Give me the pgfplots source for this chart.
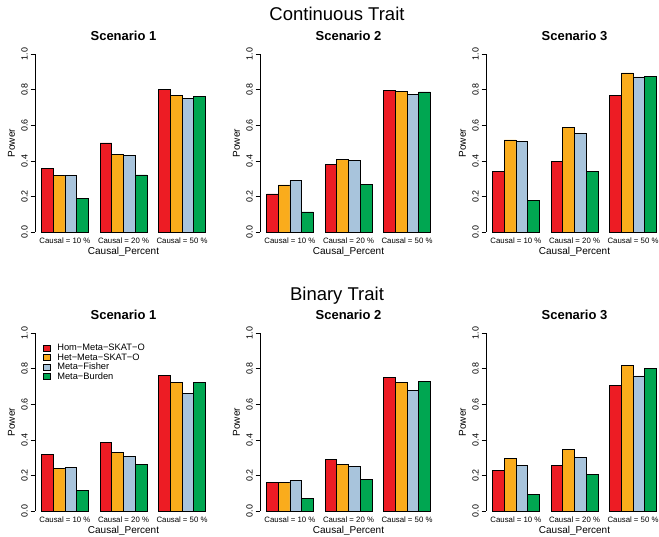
\documentclass[border=0pt]{standalone}
\usepackage{pgfplots}
\pgfplotsset{compat=1.18}
\usepackage{pgfplotstable}
\usepackage{fontspec}
\setmainfont{Liberation Sans}
\definecolor{cred}{RGB}{237,28,36}
\definecolor{corange}{RGB}{250,172,28}
\definecolor{cblue}{RGB}{168,196,220}
\definecolor{cgreen}{RGB}{0,166,81}

% Continuous trait
\pgfplotstableread{
g hom het fis bur
0 0.356 0.319 0.319 0.188
1 0.501 0.435 0.432 0.321
2 0.803 0.769 0.752 0.764
}\tabA
\pgfplotstableread{
g hom het fis bur
0 0.214 0.265 0.289 0.113
1 0.381 0.407 0.403 0.266
2 0.797 0.792 0.773 0.788
}\tabB
\pgfplotstableread{
g hom het fis bur
0 0.341 0.518 0.510 0.176
1 0.396 0.587 0.553 0.340
2 0.767 0.895 0.872 0.874
}\tabC
% Binary trait
\pgfplotstableread{
g hom het fis bur
0 0.320 0.240 0.245 0.118
1 0.388 0.328 0.309 0.264
2 0.764 0.723 0.659 0.723
}\tabD
\pgfplotstableread{
g hom het fis bur
0 0.163 0.159 0.170 0.069
1 0.292 0.260 0.253 0.176
2 0.751 0.723 0.678 0.728
}\tabE
\pgfplotstableread{
g hom het fis bur
0 0.227 0.294 0.257 0.092
1 0.257 0.345 0.303 0.208
2 0.704 0.818 0.760 0.801
}\tabF

\pgfplotsset{
  rb/.style={ybar, bar width=1, bar shift=0pt, draw=black, line width=0.7pt,
    legend image code/.code={\draw[##1,/tikz/.cd,bar width=3pt,bar shift=0pt] (0pt,-2.85pt) rectangle (7.3pt,2.85pt); \path (12pt,0pt);}},
  rpanel/.style={
    scale only axis, width=177pt, height=192pt, anchor=south west,
    xmin=0.44, xmax=15.56, ymin=-0.04, ymax=1.04,
    axis y line*=left, axis x line*=bottom,
    x axis line style={draw=none},
    y axis line style={line width=0.6pt, shorten <=7.11pt, shorten >=7.11pt},
    ytick={0,0.2,0.4,0.6,0.8,1},
    yticklabel style={/pgf/number format/.cd, fixed, fixed zerofill, precision=1, assume math mode=true, /tikz/.cd,
      rotate=90, anchor=base, yshift=3pt, font=\fontsize{8.9}{10.5}\selectfont},
    ytick style={line width=0.6pt, black},
    major tick length=4.3pt, tick align=outside,
    xtick={3,8,13},
    xticklabels={Causal = 10 \%, Causal = 20 \%, Causal = 50 \%},
    xtick style={draw=none},
    xticklabel style={font=\fontsize{7.8}{9.5}\selectfont, anchor=base},
    xlabel={Causal\_Percent},
    xlabel style={at={(axis description cs:0.5,0)}, anchor=base, yshift=-15.5pt, font=\fontsize{10}{12}\selectfont},
    ylabel={Power},
    ylabel style={at={(axis description cs:0,0.5)}, anchor=center, yshift=23.5pt, font=\fontsize{10}{12}\selectfont},
    title style={at={(axis description cs:0.5,1)}, anchor=base, yshift=0.5pt, font=\fontsize{13}{15}\selectfont\bfseries},
    clip=false,
    legend style={draw=none, fill=none, at={(axis description cs:0.025,0.92)}, anchor=north west,
      font=\fontsize{9.3}{11}\selectfont, row sep=0.5pt,
      nodes={text height=7pt, text depth=2pt, inner ysep=0pt}},
    legend cell align=left,
  },
}

\newcommand\panel[4]{%
  \begin{axis}[rpanel, at={#1}, title={#3}]
    \addplot[rb, fill=cred]    table[x expr=5*\thisrow{g}+1.5, y=hom]{#2};
    \addplot[rb, fill=corange] table[x expr=5*\thisrow{g}+2.5, y=het]{#2};
    \addplot[rb, fill=cblue]   table[x expr=5*\thisrow{g}+3.5, y=fis]{#2};
    \addplot[rb, fill=cgreen]  table[x expr=5*\thisrow{g}+4.5, y=bur]{#2};
    #4
  \end{axis}}

\begin{document}
\begin{tikzpicture}
\useasboundingbox (0pt,0pt) rectangle (659pt,536pt);
\node[font=\fontsize{18.5}{22}\selectfont, anchor=base] at (337pt,515.3pt) {Continuous Trait};
\node[font=\fontsize{18.5}{22}\selectfont, anchor=base] at (337pt,235pt) {Binary Trait};
\panel{(35pt,296.9pt)}{\tabA}{Scenario 1}{}
\panel{(260pt,296.9pt)}{\tabB}{Scenario 2}{}
\panel{(486pt,296.9pt)}{\tabC}{Scenario 3}{}
\panel{(35pt,17.9pt)}{\tabD}{Scenario 1}{\legend{Hom−Meta−SKAT−O, Het−Meta−SKAT−O, Meta−Fisher, Meta−Burden}}
\panel{(260pt,17.9pt)}{\tabE}{Scenario 2}{}
\panel{(486pt,17.9pt)}{\tabF}{Scenario 3}{}
\end{tikzpicture}
\end{document}
